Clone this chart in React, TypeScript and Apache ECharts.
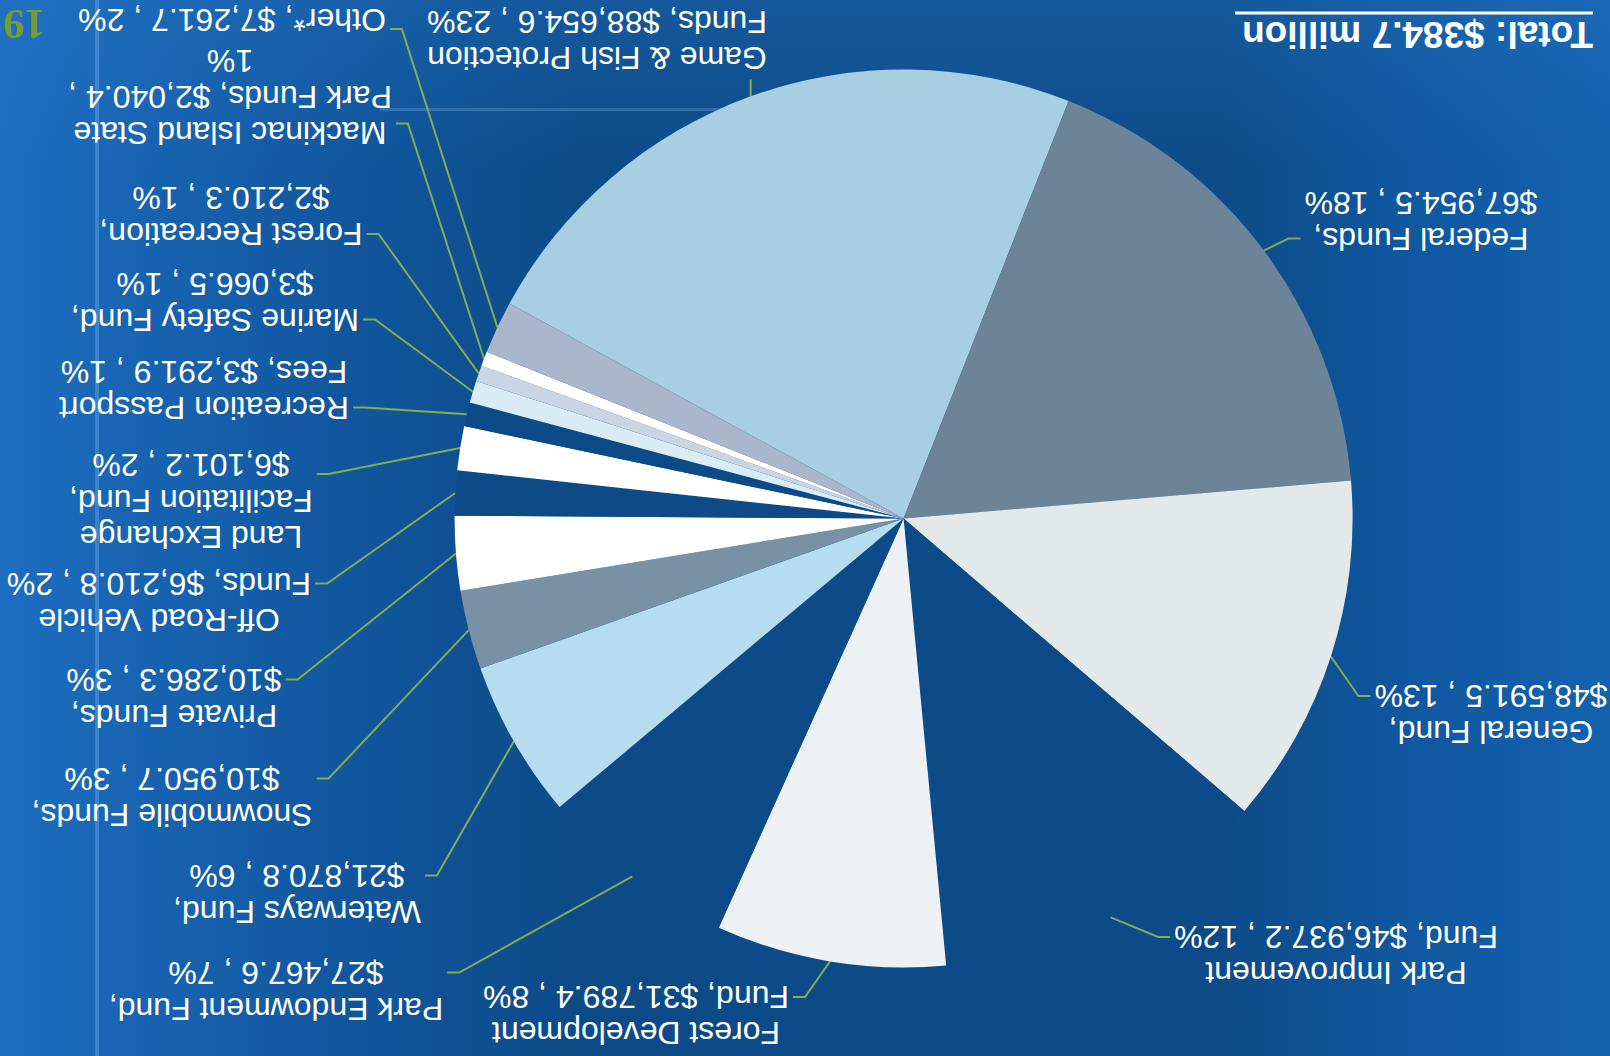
import React, { useEffect, useRef } from "react";
import * as echarts from "echarts";

// ---- data ----
const FUND_NAMES = [
  "Game & Fish Protection\nFunds",
  "Federal Funds",
  "General Fund",
  "Park Improvement\nFund",
  "Forest Development\nFund",
  "Park Endowment Fund",
  "Waterways Fund",
  "Snowmobile Funds",
  "Private Funds",
  "Off-Road Vehicle\nFunds",
  "Land Exchange\nFacilitation Fund",
  "Recreation Passport\nFees",
  "Marine Safety Fund",
  "Forest Recreation",
  "Mackinac Island State\nPark Funds",
  "Other*",
];
const FUND_VALUES = [
  88654.6, 67954.5, 48591.5, 46937.2, 31789.4, 27467.6, 21870.8, 10950.7,
  10286.3, 6210.8, 6101.2, 3291.9, 3066.5, 2210.3, 2040.4, 7261.7,
];
// "v": line break before the amount, "p": line break before the percentage
const LABEL_WRAP = ["", "v", "v", "", "", "v", "v", "v", "v", "", "v", "", "v", "v", "p", ""];
const TITLE = "Total: $384.7 million";
const PAGE_NUMBER = "19";

// ---- styles / layout ----
const DARK = "#0d4b88";
const SLICE_COLORS = [
  "#a7cee1", "#6b8497", "#e3e8eb", DARK, "#eef1f3", DARK,
  "#b6dcf0", "#7891a5", "#ffffff", DARK, "#ffffff", DARK,
  "#d9ecf6", "#c9d5e2", "#ffffff", "#a9b6cc",
];
const LABEL_POS = [
  [1013, 1016.5], [189, 835.5], [119, 342], [274, 101], [974, 41], [1334, 65.5],
  [1313, 162.5], [1438, 259.5], [1436, 358.5], [1451, 454.5], [1419, 555],
  [1406, 666.5], [1395, 754.5], [1379, 840], [1380, 959.5], [1378, 1036],
];
const FONT = '"Liberation Sans", Arial, sans-serif';
const LEADER = "#7fae55";

export default function App() {
  const ref = useRef<HTMLDivElement>(null);

  useEffect(() => {
    if (!ref.current) return;
    const chart = echarts.init(ref.current, null, { renderer: "svg" });
    const data = FUND_NAMES.map((n, i) => ({
      name: n,
      value: FUND_VALUES[i],
      itemStyle: { color: SLICE_COLORS[i] },
    }));
    chart.setOption({
      animation: false,
      backgroundColor: "transparent",
      graphic: [
        {
          type: "text",
          x: 17,
          y: 1022,
          style: {
            text: TITLE,
            fill: "#ffffff",
            fontSize: 37,
            fontWeight: "bold",
            fontFamily: FONT,
            align: "left",
            verticalAlign: "middle",
          },
        },
        {
          type: "line",
          shape: { x1: 17, y1: 1043, x2: 375, y2: 1043 },
          style: { stroke: "#ffffff", lineWidth: 3 },
        },
        {
          type: "text",
          x: 1607,
          y: 1053,
          style: {
            text: PAGE_NUMBER,
            fill: "#7a9a32",
            fontSize: 42,
            fontWeight: "bold",
            fontFamily: '"Liberation Serif", "DejaVu Serif", serif',
            align: "right",
            verticalAlign: "bottom",
          },
        },
      ],
      series: [
        {
          type: "pie",
          center: [706.4, 537.5],
          radius: 449,
          startAngle: 331.4,
          clockwise: true,
          avoidLabelOverlap: false,
          data,
          itemStyle: { borderWidth: 0 },
          emphasis: { disabled: true },
          label: {
            show: true,
            position: "outside",
            color: "#ffffff",
            fontSize: 32,
            lineHeight: 36,
            fontFamily: FONT,
            formatter: (p: any) => {
              const i = p.dataIndex;
              const money =
                "$" +
                Number(p.value).toLocaleString("en-US", {
                  minimumFractionDigits: 1,
                  maximumFractionDigits: 1,
                });
              const pct = Math.round(p.percent) + "%";
              const w = LABEL_WRAP[i];
              return (
                p.name + "," + (w === "v" ? "\n" : " ") + money + " ," + (w === "p" ? "\n" : " ") + pct
              );
            },
          },
          labelLine: {
            show: true,
            length: 10,
            length2: 10,
            lineStyle: { color: LEADER, width: 2 },
          },
          labelLayout: (params: any) => {
            const i = params.dataIndex;
            const [cx, cy] = LABEL_POS[i];
            const w = params.labelRect.width;
            const h = params.labelRect.height;
            const pts = params.labelLinePoints;
            const base: any = { x: cx, y: cy, align: "center", verticalAlign: "middle" };
            if (!pts || !pts.length) return base;
            const e = pts[0];
            const left = cx - w / 2;
            const right = cx + w / 2;
            const top = cy - h / 2;
            const bottom = cy + h / 2;
            let line;
            if (e[0] >= left && e[0] <= right) {
              const ay = e[1] < top ? top - 4 : bottom + 4;
              line = [[e[0], e[1]], [e[0], ay], [e[0], ay]];
            } else {
              const side = e[0] < left ? -1 : 1;
              const ax = side < 0 ? left - 4 : right + 4;
              const ay = Math.min(Math.max(e[1], top + h * 0.25), bottom - h * 0.25);
              line = [[e[0], e[1]], [ax + side * 12, ay], [ax, ay]];
            }
            base.labelLinePoints = line;
            return base;
          },
        },
      ],
    });
    return () => chart.dispose();
  }, []);

  return (
    <div
      style={{
        position: "fixed",
        left: 0,
        top: 0,
        width: 1610,
        height: 1056,
        overflow: "hidden",
        backgroundColor: DARK,
        backgroundImage:
          "linear-gradient(to bottom, rgba(40,120,200,0.3) 0%, rgba(40,120,200,0) 16%)," +
          "linear-gradient(to right, #1d6dc1 0%, #1a67b6 6%, #155ea9 14%, #0f5296 26%, #0d4b88 36%, #0d4b88 76%, #1058a0 88%, #1462ae 100%)",
      }}
    >
      <div
        style={{
          position: "absolute",
          left: 95,
          top: 0,
          width: 4,
          height: 1056,
          background: "rgba(110,175,240,0.4)",
        }}
      />
      <div
        style={{
          position: "absolute",
          left: 380,
          top: 108,
          width: 360,
          height: 3,
          background: "rgba(120,180,235,0.3)",
        }}
      />
      <div
        ref={ref}
        style={{
          position: "absolute",
          left: 0,
          top: 0,
          width: 1610,
          height: 1056,
          transform: "rotate(180deg)",
          transformOrigin: "50% 50%",
        }}
      />
    </div>
  );
}
